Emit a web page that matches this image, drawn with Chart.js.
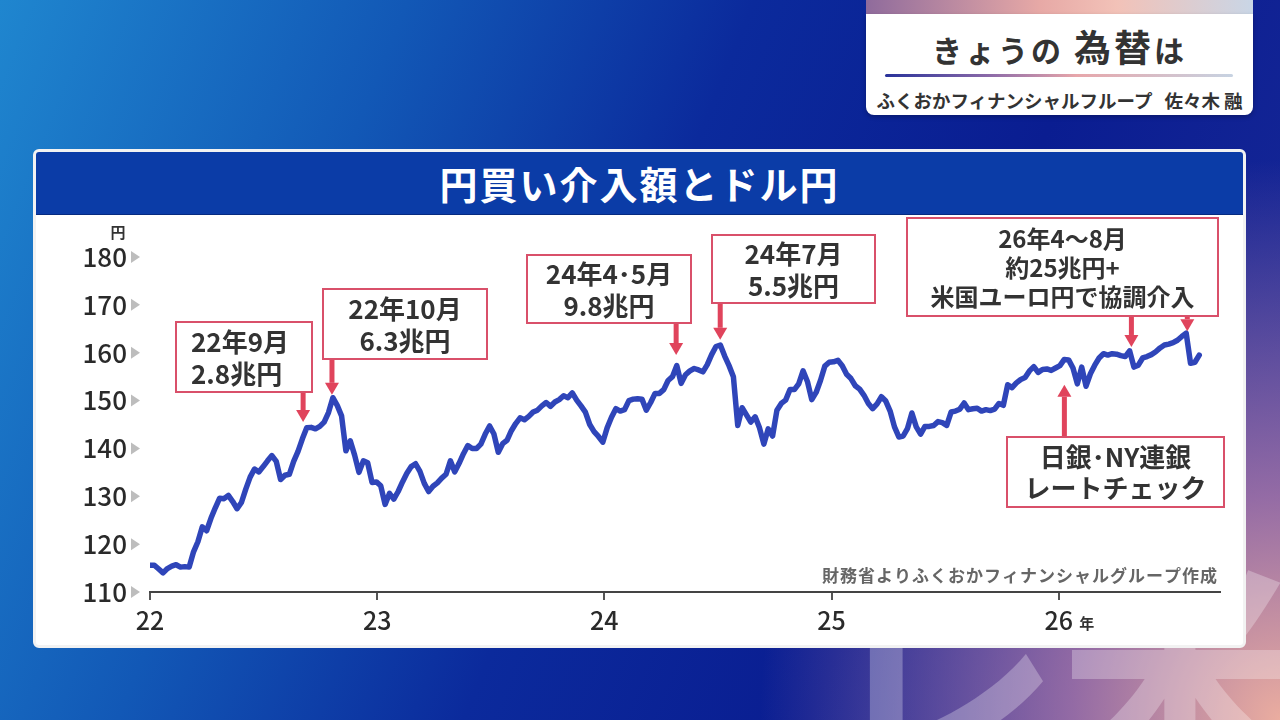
<!DOCTYPE html>
<html lang="ja">
<head>
<meta charset="utf-8">
<title>円買い介入額とドル円</title>
<script src="https://cdn.jsdelivr.net/npm/chart.js@4.4.1/dist/chart.umd.min.js"></script>
<style>
  html, body { margin: 0; padding: 0; }
  body {
    width: 1280px; height: 720px; overflow: hidden; position: relative;
    font-family: "Noto Sans CJK JP", "Noto Sans", sans-serif;
    background:
      radial-gradient(ellipse 520px 560px at 100% 100%, rgba(246,180,160,0.95) 0%, rgba(190,130,170,0.75) 40%, rgba(120,90,170,0.0) 100%),
      linear-gradient(112deg, #1f86cf 0%, #1258b6 26%, #0b2a9c 48%, #0a1d91 70%, #1a2a98 100%);
  }
  #mark {
    position: absolute; left: 820px; top: 540px; white-space: nowrap;
    font-size: 240px; font-weight: 700; line-height: 240px; color: rgba(255,255,255,0.28);
  }
  #hdr { position: absolute; left: 866px; top: 0; width: 387px; height: 115px; }
  #hdr .strip {
    position: absolute; left: 0; top: 0; width: 100%; height: 14px;
    background: linear-gradient(90deg, #8f6b9c 0%, #e7a9a6 45%, #f2c2b8 65%, #c9d6e6 100%);
  }
  #hdr .body {
    position: absolute; left: 0; top: 14px; width: 100%; height: 101px; background: #fff;
    border-radius: 0 0 8px 8px; box-shadow: 0 2px 4px rgba(0,0,0,0.25);
  }
  #hdr .ttl {
    position: absolute; left: 0; top: 24px; width: 100%; text-align: center;
    font-size: 30px; font-weight: 700; color: #333; letter-spacing: 3px; line-height: 44px;
  }
  #hdr .ttl span { font-size: 37px; }
  #hdr .uline {
    position: absolute; left: 19px; top: 74px; width: 348px; height: 3px; border-radius: 2px;
    background: linear-gradient(90deg, #28329a 0%, #8c6aa8 30%, #e7a6aa 55%, #c7d3e2 100%);
  }
  #hdr .sub {
    position: absolute; left: 0; top: 86px; width: 100%; text-align: center;
    font-size: 18.5px; font-weight: 700; color: #333; line-height: 28px; white-space: nowrap;
  }
  #hdr .sub span { margin-left: 12px; }
  #panel {
    position: absolute; left: 33px; top: 149px; width: 1207px; height: 493px;
    background: #fff; border: 3px solid #f2f2f2; border-radius: 6px;
  }
  #bar {
    position: absolute; left: 0; top: 0; width: 100%; height: 62px; background: #0b3ca7;
    border-radius: 3px 3px 0 0; border-bottom: 1px solid #062a80;
    color: #fff; font-size: 38px; font-weight: 700; text-align: center; line-height: 62px;
    letter-spacing: 2px;
  }
  #chart { position: absolute; left: 36px; top: 214px; }
</style>
</head>
<body>
<div id="mark">レ米</div>
<div id="hdr">
  <div class="strip"></div>
  <div class="body"></div>
  <div class="ttl">きょうの <span>為替</span>は</div>
  <div class="uline"></div>
  <div class="sub">ふくおかフィナンシャルフループ<span>佐々木 融</span></div>
</div>
<div id="panel"><div id="bar">円買い介入額とドル円</div></div>
<canvas id="chart" width="1207" height="431"></canvas>

<script>
// 週次のドル円（22年初から、1週おき）
const firstWeek = 22;          // 2022年1月初
const weeksPerYear = 52.18;
const usdJpy = [
  115.6, 115.6, 114.8, 114.0, 114.9, 115.4, 115.7, 115.2, 115.3, 115.2,
  118.4, 120.5, 123.6, 122.8, 125.4, 127.6, 129.6, 129.5, 130.2, 128.9,
  127.4, 128.7, 131.5, 134.0, 135.7, 135.1, 136.2, 137.4, 138.5, 137.3,
  133.5, 134.4, 134.6, 137.3, 139.4, 142.0, 144.3, 144.4, 144.1, 144.6,
  145.5, 147.5, 150.6, 149.0, 146.8, 139.5, 141.6, 138.6, 135.0, 137.4,
  137.0, 132.9, 133.0, 132.2, 128.3, 130.6, 129.4, 131.0, 133.0, 134.8,
  136.2, 136.8, 135.2, 132.7, 131.0, 132.1, 132.8, 133.8, 134.6, 137.4,
  135.1, 136.9, 138.9, 140.6, 140.0, 140.0, 140.9, 143.0, 144.7, 143.0,
  139.2, 141.0, 141.7, 143.7, 145.2, 146.4, 146.0, 146.7, 147.6, 148.0,
  148.9, 149.6, 148.8, 149.7, 150.2, 151.0, 150.6, 151.6, 150.1, 148.9,
  147.6, 145.0, 143.5, 142.5, 141.3, 144.3, 146.5, 148.3, 147.8, 148.1,
  150.0, 150.3, 150.4, 150.3, 148.0, 149.6, 151.5, 151.5, 152.3, 154.2,
  155.0, 157.3, 153.6, 155.4, 156.2, 156.7, 156.4, 156.0, 157.5, 159.6,
  161.3, 161.6, 159.3, 157.3, 155.0, 144.8, 148.5, 147.0, 145.5, 146.6,
  144.3, 140.9, 144.1, 142.6, 148.0, 149.4, 150.1, 152.3, 152.3, 153.5,
  156.2, 154.0, 150.2, 151.7, 154.2, 157.2, 158.0, 158.1, 158.4, 157.3,
  155.5, 154.6, 153.1, 152.4, 151.1, 149.4, 148.3, 149.3, 150.8, 149.9,
  147.8, 144.5, 142.4, 142.6, 144.2, 147.4, 144.5, 143.0, 144.6, 144.6,
  144.8, 145.6, 145.4, 144.8, 147.6, 147.8, 148.2, 149.5, 148.1, 148.3,
  148.4, 147.8, 148.1, 147.9, 148.2, 149.4, 149.0, 153.3, 152.7, 153.7,
  154.4, 154.8, 156.2, 157.1, 155.9, 156.5, 156.6, 156.3, 156.8, 157.3,
  158.6, 158.5, 156.8, 153.5, 157.0, 153.0, 155.6, 157.4, 158.9, 159.8,
  159.5, 159.8, 159.7, 159.4, 159.2, 160.4, 157.0, 157.4, 158.9, 159.2,
  159.6, 160.2, 161.0, 161.6, 161.8, 162.1, 162.6, 163.4, 164.1, 157.8,
  158.0, 159.5
];

const xTicks = [22, 23, 24, 25, 26];
const yTicks = [110, 120, 130, 140, 150, 160, 170, 180];
const xMax = 26.71;

// 吹き出し（介入・レートチェック）
const calloutText = [
  ['22年9月', '2.8兆円'],
  ['22年10月', '6.3兆円'],
  ['24年4･5月', '9.8兆円'],
  ['24年7月', '5.5兆円'],
  ['26年4〜8月', '約25兆円+', '米国ユーロ円で協調介入'],
  ['日銀･NY連銀', 'レートチェック']
];
const arrowDates = [[22.674], [22.801], [24.316], [24.510], [26.320, 26.566], [26.025]];
const arrowRates = [[145.5], [151.2], [159.5], [162.7], [161.2, 164.5], [153.3]];
const sourceNote = '財務省よりふくおかフィナンシャルグループ作成';

const FONT = '"Noto Sans CJK JP", "Noto Sans", sans-serif';

const points = usdJpy.map((v, i) => ({ x: firstWeek + i / weeksPerYear, y: v }));

const overlay = {
  id: 'overlay',
  afterDatasetsDraw(chart, args, opts) {
    const { ctx, chartArea, scales: { x, y } } = chart;
    ctx.save();

    // 目盛りの三角
    ctx.fillStyle = '#bdbdbd';
    yTicks.forEach(v => {
      const py = y.getPixelForValue(v);
      const px = chartArea.left - 19;
      ctx.beginPath();
      ctx.moveTo(px, py - 6);
      ctx.lineTo(px + 9, py);
      ctx.lineTo(px, py + 6);
      ctx.closePath();
      ctx.fill();
    });

    // 単位
    ctx.fillStyle = '#333';
    ctx.font = `700 15px ${FONT}`;
    ctx.textAlign = 'center';
    ctx.textBaseline = 'middle';
    ctx.fillText('円', chartArea.left - 32, y.getPixelForValue(180) - 25);
    ctx.fillText('年', x.getPixelForValue(26) + 28, chartArea.bottom + 31);

    // 出典
    ctx.fillStyle = '#666';
    ctx.font = `700 17px ${FONT}`;
    ctx.letterSpacing = '1px';
    ctx.textAlign = 'right';
    ctx.fillText(sourceNote, chartArea.right - 2, chartArea.bottom - 16);
    ctx.letterSpacing = '0px';

    // 吹き出しと矢印
    opts.boxes.forEach((b, i) => {
      ctx.fillStyle = '#fff';
      ctx.fillRect(b.l, b.t, b.w, b.h);
      ctx.strokeStyle = '#d9506a';
      ctx.lineWidth = 2;
      ctx.strokeRect(b.l, b.t, b.w, b.h);

      const lines = calloutText[i];
      ctx.fillStyle = '#333';
      ctx.font = `700 ${b.font}px ${FONT}`;
      ctx.textBaseline = 'middle';
      ctx.textAlign = b.align === 'left' ? 'left' : 'center';
      const tx = b.align === 'left' ? b.l + 15 : b.l + b.w / 2;
      const top = b.t + (b.h - lines.length * b.lh) / 2 + b.lh / 2 + 1;
      lines.forEach((s, k) => ctx.fillText(s, tx, top + k * b.lh));

      arrowDates[i].forEach((d, k) => {
        const ax = x.getPixelForValue(d);
        const ay = y.getPixelForValue(arrowRates[i][k]);
        const down = ay > b.t + b.h;
        const from = down ? b.t + b.h + 1 : b.t - 1;
        const dir = down ? 1 : -1;
        const head = 12;
        ctx.fillStyle = '#e0445c';
        const s0 = Math.min(from, ay - dir * head), s1 = Math.max(from, ay - dir * head);
        ctx.fillRect(ax - 2.5, s0, 5, s1 - s0);
        ctx.beginPath();
        ctx.moveTo(ax - 7, ay - dir * head);
        ctx.lineTo(ax + 7, ay - dir * head);
        ctx.lineTo(ax, ay);
        ctx.closePath();
        ctx.fill();
      });
    });
    ctx.restore();
  }
};

new Chart(document.getElementById('chart'), {
  type: 'line',
  data: {
    datasets: [{
      data: points,
      borderColor: '#2f45b9',
      borderWidth: 5.5,
      pointRadius: 0,
      tension: 0,
      borderJoinStyle: 'round',
      borderCapStyle: 'round'
    }]
  },
  options: {
    responsive: false,
    animation: false,
    devicePixelRatio: 1,
    layout: { padding: { top: 43, right: 23, left: 0, bottom: 0 } },
    plugins: {
      legend: { display: false },
      tooltip: { enabled: false },
      overlay: {
        boxes: [
          { l: 140, t: 108, w: 136, h: 70, align: 'left', font: 26, lh: 32 },
          { l: 287, t: 75, w: 164, h: 70, align: 'center', font: 26, lh: 32 },
          { l: 491, t: 41, w: 164, h: 68, align: 'center', font: 26, lh: 32 },
          { l: 676, t: 21, w: 163, h: 68, align: 'center', font: 26, lh: 32 },
          { l: 871, t: 4, w: 311, h: 98, align: 'center', font: 24, lh: 29 },
          { l: 971, t: 223, w: 217, h: 70, align: 'center', font: 26, lh: 31 }
        ]
      }
    },
    scales: {
      x: {
        type: 'linear',
        min: 22,
        max: xMax,
        afterBuildTicks: s => { s.ticks = xTicks.map(v => ({ value: v })); },
        afterFit: s => { s.height = 53; },
        grid: { drawOnChartArea: false, drawTicks: true, tickLength: 8, color: '#555', lineWidth: 2 },
        border: { display: true, color: '#444', width: 2 },
        ticks: {
          callback: v => String(v),
          font: { family: FONT, size: 25, weight: '500' },
          color: '#2a2a2a',
          padding: 5,
          maxRotation: 0,
          autoSkip: false
        }
      },
      y: {
        min: 110,
        max: 180,
        afterBuildTicks: s => { s.ticks = yTicks.map(v => ({ value: v })); },
        afterFit: s => { s.width = 114; },
        grid: { display: false, drawTicks: false },
        border: { display: false },
        ticks: {
          font: { family: FONT, size: 26, weight: '500' },
          color: '#2a2a2a',
          padding: 23
        }
      }
    }
  },
  plugins: [overlay]
});
</script>
</body>
</html>
